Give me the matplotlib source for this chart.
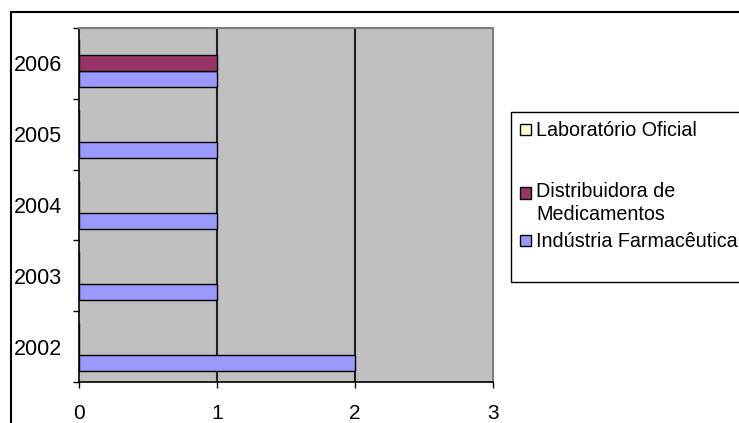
import matplotlib.pyplot as plt
from matplotlib.patches import Rectangle

years = ["2002", "2003", "2004", "2005", "2006"]
industria = [2, 1, 1, 1, 1]
distribuidora = [0, 0, 0, 0, 1]
laboratorio = [0, 0, 0, 0, 0]

series_names = ["Indústria Farmacêutica", "Distribuidora de\nMedicamentos", "Laboratório Oficial"]
colors = ["#9999FF", "#993366", "#FFFFCC"]
x_ticks = [0, 1, 2, 3]

plt.rcParams['font.family'] = ['Liberation Sans', 'DejaVu Sans']

W, H = 739, 423
fig = plt.figure(figsize=(W / 100, H / 100), dpi=100)

# outer chart border (right and bottom run off the image)
fig.patches.append(Rectangle((11 / W, -0.1), 1.2, (H - 12) / H + 0.1, fill=False,
                             edgecolor="black", lw=1.5, transform=fig.transFigure))

ax = fig.add_axes([79 / W, (H - 382) / H, (493 - 79) / W, (382 - 28) / H])
ax.set_facecolor("#C0C0C0")

h = 0.226
pos = list(range(len(years)))
for i, vals in enumerate([industria, distribuidora, laboratorio]):
    y = [p + (i - 1) * h for p in pos]
    ax.barh(y, vals, height=h, color=colors[i], edgecolor="black", lw=1, zorder=3)

ax.set_xlim(0, 3)
ax.set_ylim(-0.5, len(years) - 0.5)
ax.set_xticks(x_ticks)
ax.set_xticklabels([str(t) for t in x_ticks], fontsize=15)
for v in x_ticks[1:-1]:
    ax.axvline(v, color="#202020", lw=1.5, zorder=2)

ax.set_yticks([p - 0.5 for p in range(len(years) + 1)])
ax.set_yticklabels([])
ax.set_yticks(pos, minor=True)
ax.set_yticklabels(years, minor=True, fontsize=15.5)
ax.tick_params(axis="y", which="major", direction="out", length=4.5, width=1)
ax.tick_params(axis="y", which="minor", length=0, pad=12)
ax.tick_params(axis="x", direction="out", length=4.5, width=1, pad=11)

for s in ["left", "bottom"]:
    ax.spines[s].set_color("black")
    ax.spines[s].set_linewidth(1.2)
for s in ["top", "right"]:
    ax.spines[s].set_color("#808080")
    ax.spines[s].set_linewidth(1.5)

# legend box, drawn Excel style
lx, ltop, lbot = 510.7, 111.7, 281.7
fig.patches.append(Rectangle((lx / W, 1 - lbot / H), 0.5, (lbot - ltop) / H,
                             facecolor="white", edgecolor="black", lw=1,
                             transform=fig.transFigure))
entries = [(2, 130, 130), (1, 193, 203), (0, 241, 241)]
for idx, ysq, ytxt in entries:
    fig.patches.append(Rectangle((520 / W, 1 - (ysq + 5.5) / H), 11 / W, 11 / H,
                                 facecolor=colors[idx], edgecolor="black", lw=1,
                                 transform=fig.transFigure))
    fig.text(536.5 / W, 1 - ytxt / H, series_names[idx], fontsize=14.2,
             va="center", ha="left", linespacing=1.25)

fig.savefig("out.png", dpi=100)
